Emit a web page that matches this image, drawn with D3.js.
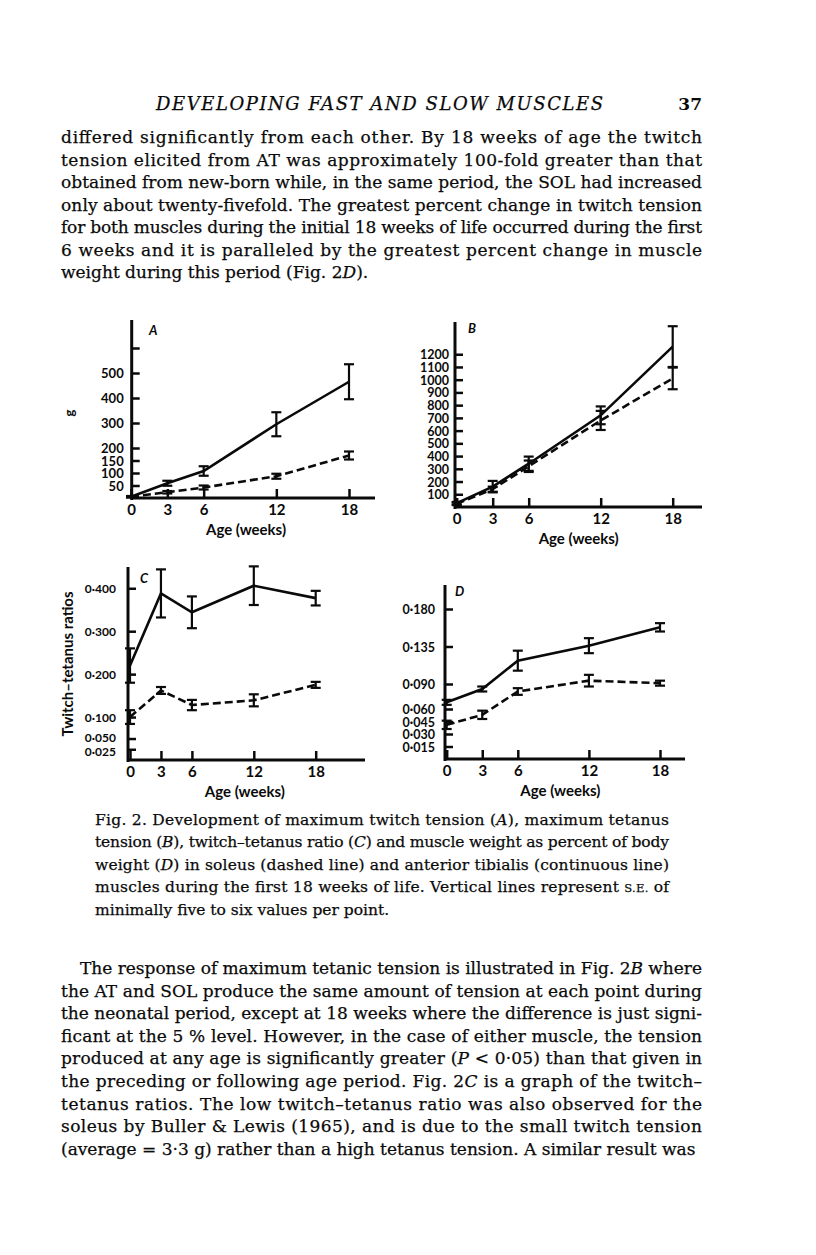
<!DOCTYPE html>
<html>
<head>
<meta charset="utf-8">
<script src="https://cdn.jsdelivr.net/npm/d3@7"></script>
<style>
  body { margin: 0; background: #fff; }
  svg { display: block; }
</style>
</head>
<body>
<div id="page"></div>
<script>
// ages (weeks) shared by all four panels
const weeks = [0, 3, 6, 12, 18];

// A: maximum twitch tension (g)
const twitchAT = [5, 59, 108, 295, 465];
const twitchATse = [3, 10, 19, 48, 70];
const twitchSOL = [5, 23, 42, 87, 170];
const twitchSOLse = [2, 5, 8, 10, 16];

// B: maximum tetanus tension (g)
const tetanusAT = [30, 160, 340, 720, 1260];
const tetanusATse = [10, 45, 56, 70, 160];
const tetanusSOL = [25, 140, 320, 680, 1010];
const tetanusSOLse = [10, 20, 45, 75, 85];

// C: twitch-tetanus ratio
const ratioAT = [0.22, 0.388, 0.344, 0.406, 0.377];
const ratioATse = [0.04, 0.056, 0.037, 0.045, 0.017];
const ratioSOL = [0.100, 0.162, 0.128, 0.139, 0.175];
const ratioSOLse = [0.016, 0.008, 0.012, 0.014, 0.007];

// D: muscle weight as % of body weight
const weightAT = [0.068, 0.084, 0.118, 0.136, 0.158];
const weightATse = [0.003, 0.003, 0.012, 0.009, 0.005];
const weightSOL = [0.041, 0.053, 0.081, 0.094, 0.091];
const weightSOLse = [0.005, 0.005, 0.004, 0.007, 0.003];

// tick values
const xTicks = [0, 3, 6, 12, 18];
const ticksA = [50, 100, 150, 200, 300, 400, 500, 600];
const ticksB = [100, 200, 300, 400, 500, 600, 700, 800, 900, 1000, 1100, 1200];
const ticksC = [0.025, 0.05, 0.1, 0.2, 0.3, 0.4];
const ticksD = [0.015, 0.03, 0.045, 0.06, 0.09, 0.135, 0.18];

// page text
const header = "DEVELOPING FAST AND SLOW MUSCLES";
const para1 = [
  "differed significantly from each other. By 18 weeks of age the twitch",
  "tension elicited from AT was approximately 100-fold greater than that",
  "obtained from new-born while, in the same period, the SOL had increased",
  "only about twenty-fivefold. The greatest percent change in twitch tension",
  "for both muscles during the initial 18 weeks of life occurred during the first",
  "6 weeks and it is paralleled by the greatest percent change in muscle",
  "weight during this period (Fig. 2_D_)."
];
const caption = [
  "Fig. 2. Development of maximum twitch tension (_A_), maximum tetanus",
  "tension (_B_), twitch–tetanus ratio (_C_) and muscle weight as percent of body",
  "weight (_D_) in soleus (dashed line) and anterior tibialis (continuous line)",
  "muscles during the first 18 weeks of life. Vertical lines represent ~S.E.~ of",
  "minimally five to six values per point."
];
const para2 = [
  "The response of maximum tetanic tension is illustrated in Fig. 2_B_ where",
  "the AT and SOL produce the same amount of tension at each point during",
  "the neonatal period, except at 18 weeks where the difference is just signi-",
  "ficant at the 5 % level. However, in the case of either muscle, the tension",
  "produced at any age is significantly greater (_P_ < 0·05) than that given in",
  "the preceding or following age period. Fig. 2_C_ is a graph of the twitch–",
  "tetanus ratios. The low twitch–tetanus ratio was also observed for the",
  "soleus by Buller & Lewis (1965), and is due to the small twitch tension",
  "(average = 3·3 g) rather than a high tetanus tension. A similar result was"
];

const W = 816, H = 1255;
const svg = d3.select("#page").append("svg")
  .attr("width", W).attr("height", H);
svg.append("rect").attr("width", W).attr("height", H).attr("fill", "#fff");

const serif = "'DejaVu Serif', 'Liberation Serif', serif";
const sans = "Lato, 'Open Sans', sans-serif";
const ink = "#0a0a0a";

// writes one line, _x_ = italic, ~x~ = small caps
function writeLine(g, str, x, y, size) {
  const t = g.append("text")
    .attr("x", x).attr("y", y)
    .attr("font-family", serif)
    .attr("font-size", size)
    .attr("fill", ink)
    .attr("stroke", ink).attr("stroke-width", 0.25);
  str.split(/(_[^_]+_|~[^~]+~)/).forEach(part => {
    if (!part) return;
    if (part[0] === "_") {
      t.append("tspan").attr("font-style", "italic").text(part.slice(1, -1));
    } else if (part[0] === "~") {
      t.append("tspan").attr("font-size", size * 0.75).text(part.slice(1, -1));
    } else {
      t.append("tspan").text(part);
    }
  });
  return t;
}

// justified block of lines; last line left ragged
function block(lines, left, right, y0, lh, size, indent) {
  const g = svg.append("g");
  lines.forEach((s, i) => {
    const x = left + (i === 0 ? indent : 0);
    const t = writeLine(g, s, x, y0 + i * lh, size);
    if (i < lines.length - 1) {
      t.attr("textLength", right - x).attr("lengthAdjust", "spacing");
    }
  });
}

// running head
svg.append("text")
  .attr("x", 156).attr("y", 110)
  .attr("font-family", serif).attr("font-style", "italic")
  .attr("font-size", 18).attr("fill", ink)
  .attr("stroke", ink).attr("stroke-width", 0.25)
  .attr("textLength", 447).attr("lengthAdjust", "spacing")
  .text(header);
svg.append("text")
  .attr("x", 702).attr("y", 110).attr("text-anchor", "end")
  .attr("font-family", serif).attr("font-weight", "bold")
  .attr("font-size", 17).attr("fill", ink)
  .text("37");

block(para1, 61, 702, 143, 22.5, 17, 0);
block(caption, 95, 669, 825, 22.4, 15.5, 0);
block(para2, 61, 702, 974, 22.6, 17, 19);

// one chart panel
function panel(c) {
  const g = svg.append("g");
  const x = d3.scaleLinear().domain([0, 18]).range([c.x0, c.x18]);
  const y = d3.scaleLinear().domain([0, c.ymax]).range([c.yBase, c.yTop]);

  // y ticks (inward) and labels
  const ya = g.append("g")
    .attr("transform", `translate(${c.ax},0)`)
    .call(d3.axisLeft(y).tickValues(c.yTicks).tickSize(-8)
      .tickPadding(c.gap).tickFormat(c.fmt));
  ya.select(".domain").remove();
  ya.attr("font-family", sans).attr("font-size", c.yFont).attr("font-weight", 700);
  ya.selectAll("line").attr("stroke", ink).attr("stroke-width", 2.5);
  ya.selectAll("text").attr("fill", ink)
    .attr("dy", d => (0.36 * c.yFont + (c.nudge ? c.nudge(d) : 0)) + "px");

  // x ticks (upward) and labels
  const xa = g.append("g")
    .attr("transform", `translate(0,${c.yBase})`)
    .call(d3.axisBottom(x).tickValues(xTicks).tickSize(-9).tickPadding(6));
  xa.select(".domain").remove();
  xa.attr("font-family", sans).attr("font-size", 15).attr("font-weight", 700);
  xa.selectAll("line").attr("stroke", ink).attr("stroke-width", 2.5);
  xa.selectAll("text").attr("fill", ink);

  // axis lines
  g.append("line")
    .attr("x1", c.ax).attr("x2", c.ax)
    .attr("y1", c.axTop).attr("y2", c.yBase + 2)
    .attr("stroke", ink).attr("stroke-width", 3);
  g.append("line")
    .attr("x1", c.ax).attr("x2", c.axRight)
    .attr("y1", c.yBase).attr("y2", c.yBase)
    .attr("stroke", ink).attr("stroke-width", 3);

  g.append("text")
    .attr("x", (c.x0 + c.x18) / 2 + c.labelShift).attr("y", c.yBase + 37)
    .attr("text-anchor", "middle")
    .attr("font-family", sans).attr("font-weight", 700).attr("font-size", 15)
    .attr("fill", ink)
    .text("Age (weeks)");

  g.append("text")
    .attr("x", c.letterX).attr("y", c.letterY)
    .attr("font-family", sans).attr("font-weight", 700)
    .attr("font-style", "italic").attr("font-size", 13)
    .attr("fill", ink)
    .text(c.letter);

  const line = d3.line().x(d => x(d[0])).y(d => y(d[1]));
  [[c.sol, c.solSE, "8,4"], [c.at, c.atSE, null]].forEach(([vals, se, dash]) => {
    const pts = weeks.map((w, i) => [w, vals[i]]);
    g.append("path")
      .attr("d", line(pts))
      .attr("fill", "none").attr("stroke", ink).attr("stroke-width", 2.6)
      .attr("stroke-dasharray", dash);
    const eb = g.append("g").selectAll("g")
      .data(weeks.map((w, i) => ({ w, v: vals[i], e: se[i] })))
      .enter().append("g");
    eb.append("line")
      .attr("x1", d => x(d.w)).attr("x2", d => x(d.w))
      .attr("y1", d => y(d.v - d.e)).attr("y2", d => y(d.v + d.e))
      .attr("stroke", ink).attr("stroke-width", 2.2);
    [-1, 1].forEach(s => {
      eb.append("line")
        .attr("x1", d => x(d.w) - 5).attr("x2", d => x(d.w) + 5)
        .attr("y1", d => y(d.v + s * d.e)).attr("y2", d => y(d.v + s * d.e))
        .attr("stroke", ink).attr("stroke-width", 2.2);
    });
  });
  return g;
}

const ratioFmt = d => "0·" + d3.format(".3f")(d).slice(2);

panel({
  letter: "A", letterX: 149, letterY: 335,
  x0: 131, x18: 349, ax: 131.7, axRight: 375, axTop: 320,
  yBase: 498, yTop: 320.5, ymax: 710, yTicks: ticksA, yFont: 13, gap: 8,
  fmt: d => d === 600 ? "" : d, labelShift: 6,
  at: twitchAT, atSE: twitchATse, sol: twitchSOL, solSE: twitchSOLse
});

panel({
  letter: "B", letterX: 468, letterY: 333,
  x0: 456.7, x18: 672.7, ax: 455, axRight: 702, axTop: 322,
  yBase: 507, yTop: 322.4, ymax: 1450, yTicks: ticksB, yFont: 12.5, gap: 6,
  fmt: d => d, labelShift: 14,
  at: tetanusAT, atSE: tetanusATse, sol: tetanusSOL, solSE: tetanusSOLse
});

const gC = panel({
  letter: "C", letterX: 140, letterY: 583,
  x0: 130, x18: 315.7, ax: 128, axRight: 365, axTop: 567,
  yBase: 760, yTop: 566.8, ymax: 0.45, yTicks: ticksC, yFont: 12, gap: 12,
  fmt: ratioFmt, labelShift: 22,
  nudge: d => d === 0.025 ? 1.5 : d === 0.05 ? -1 : 0,
  at: ratioAT, atSE: ratioATse, sol: ratioSOL, solSE: ratioSOLse
});
gC.append("text")
  .attr("transform", "translate(73,664) rotate(-90)")
  .attr("text-anchor", "middle")
  .attr("font-family", sans).attr("font-weight", 700).attr("font-size", 15)
  .attr("fill", ink)
  .text("Twitch–tetanus ratios");

panel({
  letter: "D", letterX: 455, letterY: 596,
  x0: 446.7, x18: 660, ax: 445, axRight: 685, axTop: 585,
  yBase: 759, yTop: 584, ymax: 0.21, yTicks: ticksD, yFont: 12.5, gap: 10,
  fmt: ratioFmt, labelShift: 7,
  at: weightAT, atSE: weightATse, sol: weightSOL, solSE: weightSOLse
});

// unit mark on panel A's y axis
svg.append("text")
  .attr("transform", "translate(74,413) rotate(-90)")
  .attr("text-anchor", "middle")
  .attr("font-family", sans).attr("font-weight", 700).attr("font-size", 13)
  .attr("fill", ink)
  .text("g");
</script>
</body>
</html>
